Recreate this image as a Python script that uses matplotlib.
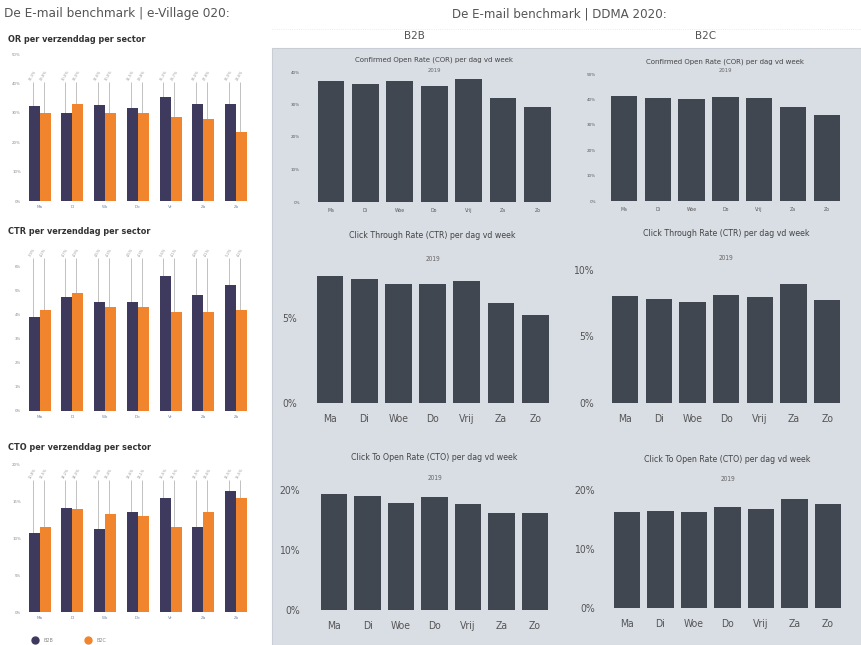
import matplotlib
matplotlib.use("Agg")
import matplotlib.pyplot as plt
from matplotlib.patches import Rectangle
from matplotlib.lines import Line2D
import numpy as np

W, H = 861, 645

# ---------------- data ----------------
days_short = ["Ma", "Di", "Wo", "Do", "Vr", "Za", "Zo"]
days_ddma = ["Ma", "Di", "Woe", "Do", "Vrij", "Za", "Zo"]
sectors = ["B2B", "B2C"]

ev_or_b2b = [32.3, 30.0, 32.6, 31.5, 35.3, 33.0, 33.0]
ev_or_b2c = [29.8, 33.0, 30.0, 29.8, 28.7, 27.8, 23.6]
ev_ctr_b2b = [3.9, 4.7, 4.5, 4.5, 5.6, 4.8, 5.2]
ev_ctr_b2c = [4.2, 4.9, 4.3, 4.3, 4.1, 4.1, 4.2]
ev_cto_b2b = [10.8, 14.2, 11.3, 13.6, 15.5, 11.5, 16.5]
ev_cto_b2c = [11.5, 14.0, 13.4, 13.1, 11.5, 13.6, 15.5]

ddma_cor_b2b = [37.1, 36.3, 37.1, 35.6, 37.9, 32.1, 29.3]
ddma_cor_b2c = [41.4, 40.7, 40.1, 41.0, 40.5, 37.0, 33.8]
ddma_ctr_b2b = [7.5, 7.3, 7.0, 7.0, 7.2, 5.9, 5.2]
ddma_ctr_b2c = [8.05, 7.83, 7.6, 8.1, 7.95, 8.95, 7.75]
ddma_cto_b2b = [19.4, 19.0, 17.9, 18.8, 17.7, 16.1, 16.2]
ddma_cto_b2c = [16.2, 16.5, 16.2, 17.2, 16.8, 18.4, 17.7]

# ---------------- style ----------------
DARK = "#3d3a5e"
ORANGE = "#f0852d"
BAR = "#414751"
GREYBG = "#d9dee5"

fig = plt.figure(figsize=(W / 100, H / 100), dpi=100)
fig.patch.set_facecolor("white")


def px_axes(x0, y0, x1, y1):
    return fig.add_axes([x0 / W, 1 - y1 / H, (x1 - x0) / W, (y1 - y0) / H])


def ftext(x, y, s, **kw):
    fig.text(x / W, 1 - y / H, s, **kw)


# grey background of the DDMA part
fig.patches.append(Rectangle((272 / W, 0), (W - 272) / W, 1 - 48 / H,
                             transform=fig.transFigure, facecolor=GREYBG,
                             edgecolor="#c9ced6", lw=0.8, zorder=-5))
fig.add_artist(Line2D([272 / W, 1], [1 - 29 / H, 1 - 29 / H],
                      transform=fig.transFigure, color="#e6e6e6", lw=0.6, ls=":"))

# ---------------- headers ----------------
ftext(4, 14, "De E-mail benchmark | e-Village 020:", fontsize=8.7,
      color="#555555", va="center", ha="left")
ftext(452, 14, "De E-mail benchmark | DDMA 2020:", fontsize=8.6,
      color="#555555", va="center", ha="left")
ftext(414, 36, "B2B", fontsize=7.5, color="#555555", ha="center", va="center")
ftext(706, 36, "B2C", fontsize=7.5, color="#555555", ha="center", va="center")


# ---------------- left (e-Village) charts ----------------
def left_chart(top, bottom, ymax, step, b2b, b2c, title, title_y, line_top):
    ax = px_axes(25, top, 254, bottom)
    x = np.arange(len(days_short))
    w = 0.336
    for xs, vals in ((x - w / 2, b2b), (x + w / 2, b2c)):
        for xi, v in zip(xs, vals):
            ax.vlines(xi - 0.05, v, line_top, color="#a8a8a8", lw=0.5,
                      clip_on=False, zorder=1)
            ax.text(xi - 0.05, line_top, f"{v:.1f}%".replace(".", ","), rotation=60,
                    fontsize=2.6, color="#9a9a9a", ha="center", va="bottom",
                    clip_on=False)
    ax.bar(x - w / 2, b2b, width=w, color=DARK, zorder=2)
    ax.bar(x + w / 2, b2c, width=w, color=ORANGE, zorder=2)
    ax.set_xlim(-0.45, 6.55)
    ax.set_ylim(0, ymax)
    ticks = np.arange(0, ymax + step / 2, step)
    ax.set_yticks(ticks)
    ax.set_yticklabels([f"{t:g}%" for t in ticks], fontsize=2.8, color="#8a8a8a")
    ax.set_xticks(x)
    ax.set_xticklabels(days_short, fontsize=3, color="#6d84a8")
    ax.tick_params(length=0, pad=3)
    for s in ax.spines.values():
        s.set_visible(False)
    ax.set_facecolor("white")
    ftext(8, title_y, title, fontsize=5.9, fontweight="bold", color="#333333",
          va="center", ha="left")
    return ax


left_chart(54, 201, 50, 10, ev_or_b2b, ev_or_b2c, "OR per verzenddag per sector", 40, 40.5)
left_chart(266, 411, 6, 1, ev_ctr_b2b, ev_ctr_b2c, "CTR per verzenddag per sector", 232, 6.35)
left_chart(465, 612, 20, 5, ev_cto_b2b, ev_cto_b2c, "CTO per verzenddag per sector", 447, 18.0)

fig.legend(handles=[Line2D([], [], marker="o", ls="", color=DARK, markersize=5, label=sectors[0]),
                    Line2D([], [], marker="o", ls="", color=ORANGE, markersize=5, label=sectors[1])],
           loc="center left", bbox_to_anchor=(26 / W, 1 - 640 / H), ncol=2, frameon=False,
           fontsize=3.5, labelcolor="#888888", columnspacing=6, handletextpad=0.8)


# ---------------- right (DDMA) charts ----------------
def right_chart(c0, s, zero_px, top_px, ymax, ticks, vals, title, title_y, sub_y,
                xl_fs, yl_fs, t_fs, ylab_right, xpad, stretch):
    left = c0 - 0.6 * s
    right = c0 + 6.6 * s
    ax = px_axes(left, top_px, right, zero_px)
    x = np.arange(len(days_ddma))
    ax.bar(x, vals, width=0.78, color=BAR, zorder=2)
    ax.set_xlim(-0.6, 6.6)
    ax.set_ylim(0, ymax)
    ax.set_yticks(ticks)
    ax.set_yticklabels([f"{t:g}%" for t in ticks], fontsize=yl_fs, color="#555555",
                       fontstretch=stretch)
    ax.set_xticks(x)
    ax.set_xticklabels(days_ddma, fontsize=xl_fs, color="#555555", fontstretch=stretch)
    ax.tick_params(axis="x", length=0, pad=xpad)
    ax.tick_params(axis="y", length=0, pad=(left - ylab_right) * 0.72)
    for sp in ax.spines.values():
        sp.set_visible(False)
    ax.set_facecolor("none")
    cx = (c0 + c0 + 6 * s) / 2
    ftext(cx, title_y, title, fontsize=t_fs, color="#444444", ha="center", va="center",
          fontstretch=stretch)
    ftext(cx, sub_y, "2019", fontsize=t_fs * 0.75, color="#666666", ha="center",
          va="center", fontstretch=stretch)
    return ax


right_chart(331, 34.4, 202, 72, 40, [0, 10, 20, 30, 40], ddma_cor_b2b,
            "Confirmed Open Rate (COR) per dag vd week", 60, 70, 3.3, 3.0, 5.0, 300, 4,
            "normal")
right_chart(624, 33.8, 201, 74, 50, [0, 10, 20, 30, 40, 50], ddma_cor_b2c,
            "Confirmed Open Rate (COR) per dag vd week", 62, 71, 3.3, 3.0, 5.0, 596, 4,
            "normal")
right_chart(330, 34.2, 403, 267, 8, [0, 5], ddma_ctr_b2b,
            "Click Through Rate (CTR) per dag vd week", 235, 259, 7.5, 7.5, 6.3, 297, 8,
            "condensed")
right_chart(625, 33.7, 403, 270, 10, [0, 5, 10], ddma_ctr_b2c,
            "Click Through Rate (CTR) per dag vd week", 233, 258, 7.5, 7.5, 6.3, 594, 8,
            "condensed")
right_chart(334, 33.5, 610, 490, 20, [0, 10, 20], ddma_cto_b2b,
            "Click To Open Rate (CTO) per dag vd week", 458, 478, 7.5, 7.5, 6.3, 300, 8,
            "condensed")
right_chart(627, 33.5, 608, 490, 20, [0, 10, 20], ddma_cto_b2c,
            "Click To Open Rate (CTO) per dag vd week", 460, 479, 7.5, 7.5, 6.3, 595, 8,
            "condensed")

fig.savefig("out.png", dpi=100)
